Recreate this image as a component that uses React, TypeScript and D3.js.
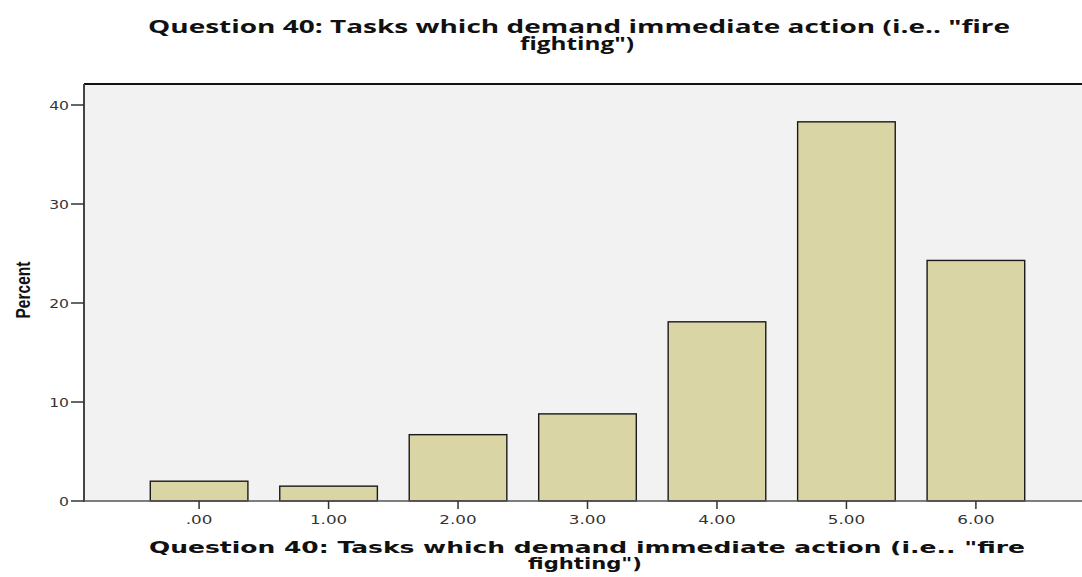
import React from "react";
import * as d3 from "d3";

const categories = [".00", "1.00", "2.00", "3.00", "4.00", "5.00", "6.00"];
const percents = [2.0, 1.5, 6.7, 8.8, 18.1, 38.3, 24.3];
const yTicks = [0, 10, 20, 30, 40];
const titleLines = ['Question 40: Tasks which demand immediate action (i.e.. "fire', 'fighting")'];
const yTitle = "Percent";

const W = 1082;
const H = 577;
const left = 84;
const top = 84;
const bottom = 501;
const right = 1091;

export default function App() {
  const x = d3.scaleBand<string>().domain(categories).range([left, right]).paddingInner(0.246).paddingOuter(0.512);
  const y = d3.scaleLinear().domain([0, 40]).range([bottom, 105]);
  const bw = x.bandwidth();
  const tickFont = "'DejaVu Sans', Verdana, sans-serif";
  return (
    <svg width={W} height={H} style={{ position: "absolute", left: 0, top: 0, background: "#fff" }}>
      {/* title */}
      <g fontFamily="'Open Sans', 'DejaVu Sans', sans-serif" fontWeight="bold" fontSize={17.5} fill="#111" textAnchor="middle">
        <text x={579} y={33} textLength={862} lengthAdjust="spacingAndGlyphs">{titleLines[0]}</text>
        <text x={577} y={50} textLength={114} lengthAdjust="spacingAndGlyphs">{titleLines[1]}</text>
      </g>
      {/* plot background */}
      <rect x={left} y={top} width={W - left} height={bottom - top} fill="#f2f2f2" />
      <line x1={left} x2={W} y1={top} y2={top} stroke="#111" strokeWidth={2} />
      {/* bars */}
      {categories.map((c, i) => (
        <rect
          key={c}
          x={x(c)!}
          y={y(percents[i])}
          width={bw}
          height={y(0) - y(percents[i])}
          fill="#dad5a5"
          stroke="#1a1a1a"
          strokeWidth={1.4}
        />
      ))}
      {/* axes */}
      <line x1={left} x2={left} y1={top} y2={bottom + 1} stroke="#444" strokeWidth={2} />
      <line x1={left} x2={W} y1={bottom} y2={bottom} stroke="#555" strokeWidth={1.5} />
      {yTicks.map((t) => (
        <g key={t}>
          <line x1={71} x2={left} y1={y(t)} y2={y(t)} stroke="#333" strokeWidth={1.5} />
          <text
            transform={`translate(69,${y(t) + 4.5}) scale(1.3,1)`}
            textAnchor="end"
            fontFamily={tickFont}
            fontSize={12}
            fill="#333"
          >
            {t}
          </text>
        </g>
      ))}
      {categories.map((c) => {
        const cx = x(c)! + bw / 2;
        return (
          <g key={c}>
            <line x1={cx} x2={cx} y1={bottom} y2={bottom + 8} stroke="#333" strokeWidth={1.5} />
            <text
              transform={`translate(${cx},${524}) scale(1.4,1)`}
              textAnchor="middle"
              fontFamily={tickFont}
              fontSize={12}
              fill="#333"
            >
              {c}
            </text>
          </g>
        );
      })}
      {/* x title */}
      <g fontFamily={tickFont} fontWeight="bold" fontSize={15} fill="#111" textAnchor="middle">
        <text x={587} y={553} textLength={876} lengthAdjust="spacingAndGlyphs">{titleLines[0]}</text>
        <text x={585} y={569} textLength={114} lengthAdjust="spacingAndGlyphs">{titleLines[1]}</text>
      </g>
      {/* y title */}
      <text
        transform={`translate(30,${290}) rotate(-90)`}
        textAnchor="middle"
        fontFamily="'Liberation Sans Narrow', 'Liberation Sans', Arial, sans-serif"
        fontWeight="bold"
        fontSize={20}
        fill="#111"
        textLength={57}
        lengthAdjust="spacingAndGlyphs"
      >
        {yTitle}
      </text>
    </svg>
  );
}
